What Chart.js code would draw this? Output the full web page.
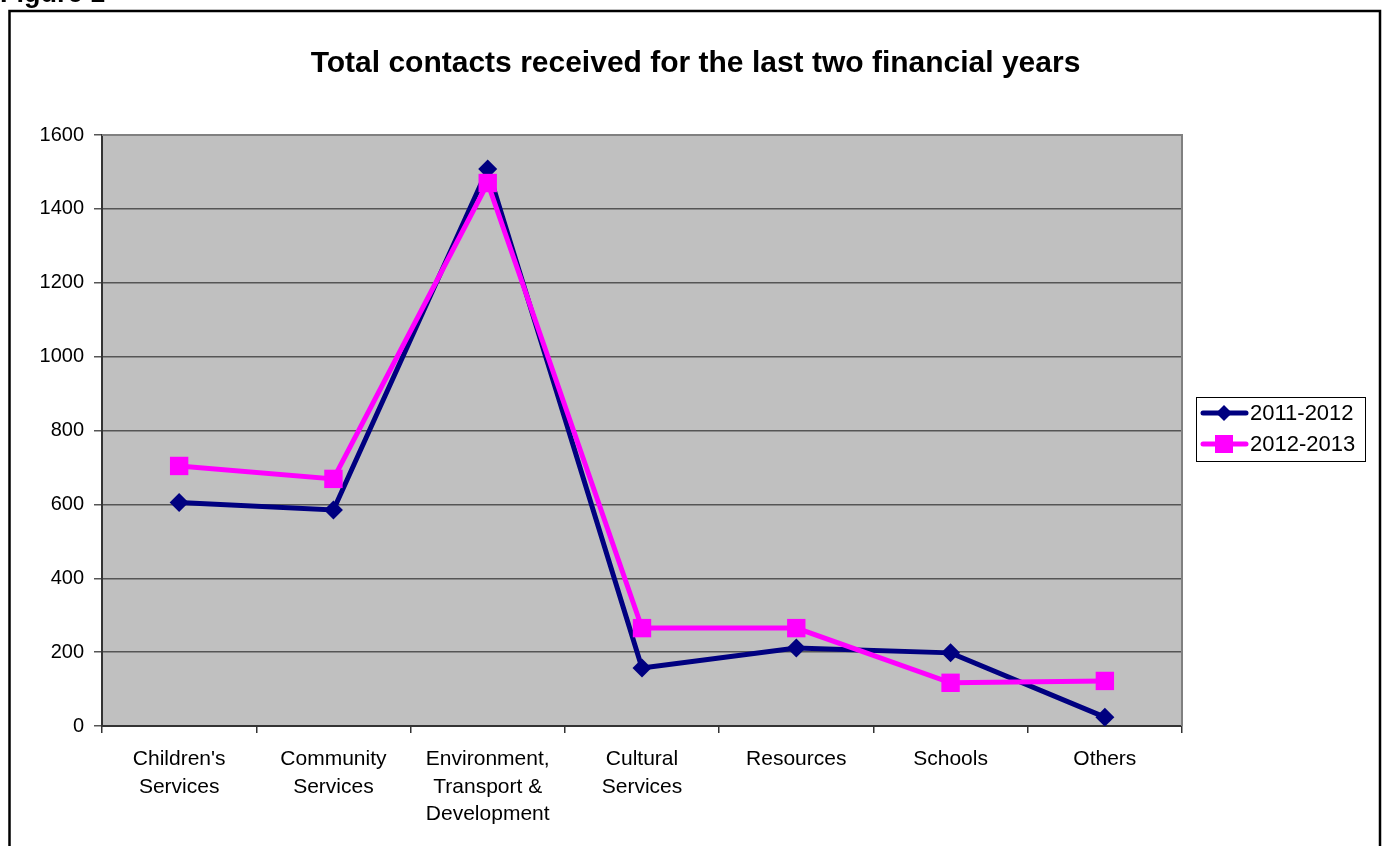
<!DOCTYPE html>
<html lang="en">
<head>
  <meta charset="UTF-8">
  <title>Total contacts received</title>
  <script src="https://cdn.jsdelivr.net/npm/chart.js"></script>
  <style>
    body {
      margin: 0;
      padding: 0;
      background: #fff;
      overflow: hidden;
      font-family: "Liberation Sans", Arial, sans-serif;
    }
    .wrap {
      position: relative;
      width: 1383px;
      height: 846px;
    }
    .fig-label {
      position: absolute;
      left: 0;
      top: -21px;
      font-weight: bold;
      font-size: 27px;
      line-height: 28px;
    }
  </style>
</head>
<body>
  <div class="wrap">
    <canvas id="contactsChart"></canvas>
    <div class="fig-label">Figure 1</div>
  </div>

  <script>
    // Departments along the x axis
    const categories = [
      ["Children's", "Services"],
      ["Community", "Services"],
      ["Environment,", "Transport &", "Development"],
      ["Cultural", "Services"],
      ["Resources"],
      ["Schools"],
      ["Others"]
    ];
    const seriesNames = ["2011-2012", "2012-2013"];
    const contacts2011 = [605, 585, 1508, 157, 211, 198, 24];
    const contacts2012 = [704, 669, 1470, 265, 265, 117, 122];
    const yTicks = [0, 200, 400, 600, 800, 1000, 1200, 1400, 1600];

    const FONT = '"Liberation Sans", Arial, sans-serif';
    const NAVY = '#000080';
    const MAGENTA = '#FF00FF';

    // grey plot background, plot frame and outer border
    const framePlugin = {
      id: 'frame',
      beforeDraw(chart) {
        const { ctx, chartArea: a } = chart;
        ctx.save();
        ctx.fillStyle = '#C0C0C0';
        ctx.fillRect(a.left, a.top, a.right - a.left, a.bottom - a.top);
        ctx.strokeStyle = '#000';
        ctx.lineWidth = 2.5;
        ctx.strokeRect(9.5, 11, 1370.5, 900);
        ctx.restore();
      },
      beforeDatasetsDraw(chart) {
        const { ctx, chartArea: a } = chart;
        ctx.save();
        ctx.strokeStyle = '#808080';
        ctx.lineWidth = 2;
        ctx.beginPath();
        ctx.moveTo(a.left, a.top);
        ctx.lineTo(a.right, a.top);
        ctx.lineTo(a.right, a.bottom);
        ctx.stroke();
        ctx.restore();
      }
    };

    // legend box with line + marker samples
    const legendPlugin = {
      id: 'lineLegend',
      afterDraw(chart) {
        const { ctx } = chart;
        const x0 = 1196.5, y0 = 397.5, w = 169, h = 64;
        ctx.save();
        ctx.fillStyle = '#fff';
        ctx.fillRect(x0, y0, w, h);
        ctx.strokeStyle = '#000';
        ctx.lineWidth = 1;
        ctx.strokeRect(x0, y0, w, h);
        const rows = [413, 444];
        chart.data.datasets.forEach((ds, i) => {
          const y = rows[i];
          ctx.strokeStyle = ds.borderColor;
          ctx.lineWidth = 5;
          ctx.lineCap = 'round';
          ctx.beginPath();
          ctx.moveTo(1203, y);
          ctx.lineTo(1246, y);
          ctx.stroke();
          ctx.fillStyle = ds.borderColor;
          const cx = 1224;
          if (ds.pointStyle === 'rectRot') {
            const r = 8;
            ctx.beginPath();
            ctx.moveTo(cx, y - r);
            ctx.lineTo(cx + r, y);
            ctx.lineTo(cx, y + r);
            ctx.lineTo(cx - r, y);
            ctx.closePath();
            ctx.fill();
          } else {
            ctx.fillRect(cx - 9, y - 9, 18, 18);
          }
          ctx.fillStyle = '#000';
          ctx.font = '22px ' + FONT;
          ctx.textBaseline = 'middle';
          ctx.textAlign = 'left';
          ctx.fillText(ds.label, 1250, y + 1);
        });
        ctx.restore();
      }
    };

    new Chart(document.getElementById('contactsChart'), {
      type: 'line',
      data: {
        labels: categories,
        datasets: [{
          label: seriesNames[0],
          data: contacts2011,
          borderColor: NAVY,
          backgroundColor: NAVY,
          borderWidth: 5,
          pointStyle: 'rectRot',
          pointRadius: 9.5,
          pointHoverRadius: 9.5,
          pointBorderWidth: 0,
          tension: 0,
          order: 1
        }, {
          label: seriesNames[1],
          data: contacts2012,
          borderColor: MAGENTA,
          backgroundColor: MAGENTA,
          borderWidth: 5,
          pointStyle: 'rect',
          pointRadius: 13,
          pointHoverRadius: 13,
          pointBorderWidth: 0,
          tension: 0,
          order: 0
        }]
      },
      options: {
        responsive: true,
        maintainAspectRatio: false,
        animation: false,
        layout: { padding: { left: 8, right: 0, top: 20, bottom: 0 } },
        plugins: {
          legend: { display: false },
          tooltip: { enabled: false },
          title: {
            display: true,
            text: 'Total contacts received for the last two financial years',
            color: '#000',
            font: { family: FONT, size: 30, weight: 'bold', lineHeight: 1.2 },
            padding: { top: 26, bottom: 53 }
          }
        },
        scales: {
          x: {
            offset: true,
            afterFit(scale) { scale.height = 120; },
            grid: {
              offset: true,
              drawOnChartArea: false,
              drawTicks: true,
              tickLength: 7,
              color: '#333',
              lineWidth: 1.5
            },
            border: { color: '#333', width: 2 },
            ticks: {
              color: '#000',
              padding: 13,
              maxRotation: 0,
              autoSkip: false,
              font: { family: FONT, size: 21, lineHeight: 1.3 }
            }
          },
          y: {
            min: yTicks[0],
            max: yTicks[yTicks.length - 1],
            afterFit(scale) { scale.width = 94; },
            afterBuildTicks(scale) { scale.ticks = yTicks.map(v => ({ value: v })); },
            grid: {
              color: '#555',
              lineWidth: 1.5,
              tickLength: 8
            },
            border: { color: '#333', width: 2 },
            ticks: {
              color: '#000',
              padding: 10,
              font: { family: FONT, size: 20 },
              callback: v => String(v)
            }
          },
          // empty axis reserving room on the right for the legend
          spacer: {
            type: 'linear',
            position: 'right',
            display: true,
            afterFit(scale) { scale.width = 201; },
            grid: { display: false },
            border: { display: false },
            ticks: { display: false }
          }
        }
      },
      plugins: [framePlugin, legendPlugin]
    });
  </script>
</body>
</html>
